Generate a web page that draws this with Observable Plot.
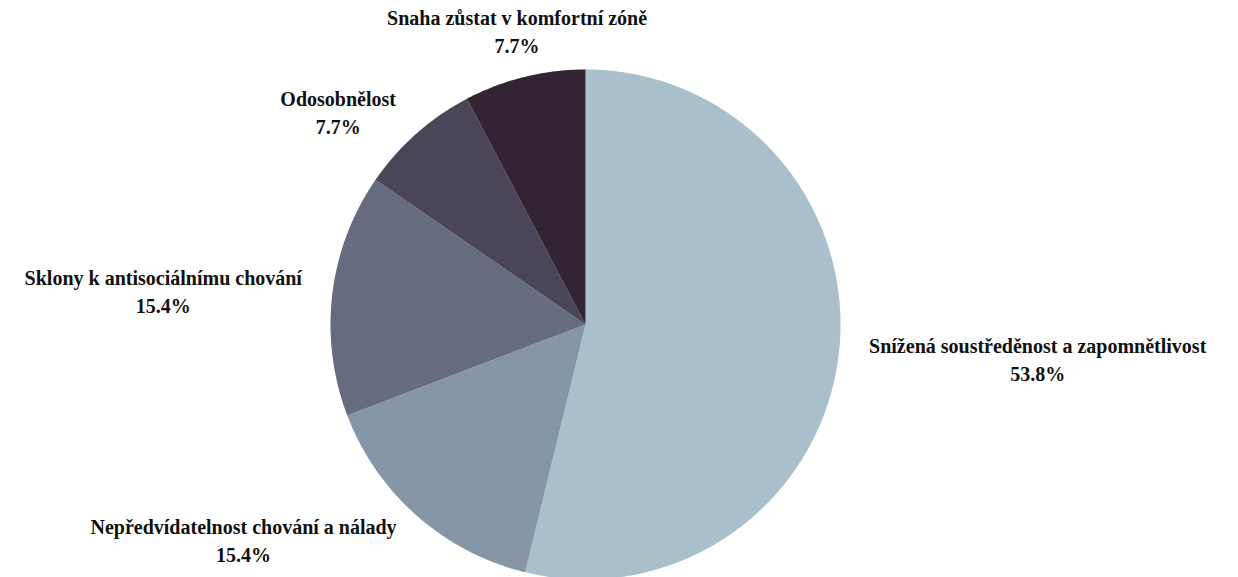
<!DOCTYPE html>
<html>
<head>
<meta charset="utf-8">
<script src="https://cdn.jsdelivr.net/npm/d3@7"></script>
<script src="https://cdn.jsdelivr.net/npm/@observablehq/plot@0.6"></script>
<style>
  html, body { margin: 0; padding: 0; background: #ffffff; }
  #chart svg { display: block; }
</style>
</head>
<body>
<div id="chart"></div>
<script>
// Data (clockwise from 12 o'clock)
const categories = [
  "Snížená soustředěnost a zapomnětlivost",
  "Nepředvídatelnost chování a nálady",
  "Sklony k antisociálnímu chování",
  "Odosobnělost",
  "Snaha zůstat v komfortní zóně"
];
const shares = [53.8, 15.4, 15.4, 7.7, 7.7];
const colors = ["#a9bfcc", "#8596a7", "#666b80", "#4a4557", "#322433"];

const W = 1238, H = 577;
const cx = 585, cy = 324, R = 255;   // pie centre and radius in pixels
const FONT_SIZE = 20, LINE_H = 1.4;
const FONT_FAMILY = "'Liberation Serif', 'Times New Roman', serif";

// Build slice polygons (unit-circle data space)
const total = d3.sum(shares);
let acc = 0;
const slices = categories.map((c, i) => {
  const a0 = acc / total * 2 * Math.PI;
  acc += shares[i];
  const a1 = acc / total * 2 * Math.PI;
  return {c, v: shares[i], a0, a1, mid: (a0 + a1) / 2};
});
const poly = [];
for (const s of slices) {
  poly.push({c: s.c, x: 0, y: 0});
  const n = Math.max(4, Math.ceil((s.a1 - s.a0) / 0.01));
  for (let k = 0; k <= n; k++) {
    const a = s.a0 + (s.a1 - s.a0) * k / n;
    poly.push({c: s.c, x: Math.sin(a), y: Math.cos(a)});
  }
  poly.push({c: s.c, x: 0, y: 0});
}

// Label placement: outside end, block centred, kept inside the chart area
const ctx = document.createElement("canvas").getContext("2d");
ctx.font = `bold ${FONT_SIZE}px ${FONT_FAMILY}`;
const labelR = 1.12;
const blockH = 2 * FONT_SIZE * LINE_H;
const labels = slices.map(s => {
  const text = `${s.c}\n${s.v.toFixed(1)}%`;
  const w = d3.max(text.split("\n"), t => ctx.measureText(t).width);
  const sx = Math.sin(s.mid), cv = Math.cos(s.mid);
  let px = cx + labelR * R * sx;
  let py = cy - labelR * R * cv;
  if (sx > 0.3) px += w / 2; else if (sx < -0.3) px -= w / 2;
  if (cv > 0.8) py -= blockH / 2; else if (cv < -0.8) py += blockH / 2;
  py = Math.max(blockH / 2 + 2, Math.min(H - blockH / 2 - 2, py));
  px = Math.max(w / 2 + 2, Math.min(W - w / 2 - 2, px));
  return {text, x: (px - cx) / R, y: (cy - py) / R};
});

const chart = Plot.plot({
  width: W,
  height: H,
  margin: 0,
  style: {fontFamily: FONT_FAMILY, background: "#ffffff"},
  x: {domain: [-cx / R, (W - cx) / R], axis: null},
  y: {domain: [-(H - cy) / R, cy / R], axis: null},
  color: {domain: categories, range: colors},
  marks: [
    Plot.line(poly, {x: "x", y: "y", z: "c", fill: "c", stroke: null, curve: "linear"}),
    Plot.text(labels, {
      x: "x", y: "y", text: "text",
      textAnchor: "middle", lineAnchor: "middle",
      lineHeight: LINE_H, fontSize: FONT_SIZE, fontWeight: "bold", fill: "#111111"
    })
  ]
});
document.getElementById("chart").appendChild(chart);
</script>
</body>
</html>
